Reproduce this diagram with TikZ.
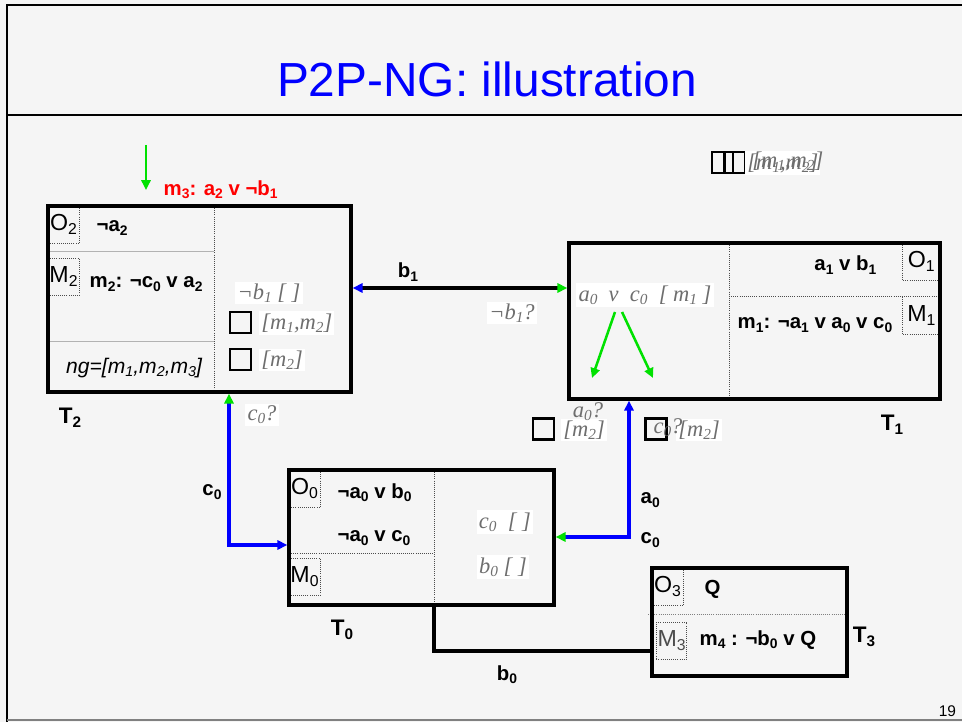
\documentclass[tikz,border=0pt]{standalone}
\usepackage{fontspec}
\setmainfont{Liberation Sans}
\newfontfamily\tnr{Liberation Serif}
\usetikzlibrary{arrows.meta,positioning,fit}
\definecolor{slidebg}{HTML}{F5F5F5}
\definecolor{titleblue}{RGB}{0,0,255}
\definecolor{msggreen}{RGB}{0,225,0}
\definecolor{hypgray}{RGB}{110,110,110}
\newcommand{\sub}[1]{\raisebox{-0.3ex}{\scalebox{0.68}{#1}}}

\begin{document}
\begin{tikzpicture}[
                x=0.025cm, y=-0.025cm,
                peer/.style={draw, line width=2.4pt, inner sep=0pt},
                lab/.style={font=\fontsize{14.5}{17}\selectfont\bfseries, inner sep=1pt},
                tlab/.style={font=\fontsize{16}{18}\selectfont\bfseries, inner sep=1pt},
                hyp/.style={
                        font=\fontsize{16}{18}\selectfont\tnr\itshape,
                        text=hypgray, fill=white, inner sep=1.5pt
                    },
                om/.style={
                        font=\fontsize{16.5}{18}\selectfont, inner sep=0pt,
                        minimum width=0.76cm, minimum height=0.92cm
                    },
                chk/.style={draw, line width=1.8pt, minimum size=0.52cm, inner sep=0pt},
                sep/.style={densely dotted, black!70, line width=0.5pt},
                link/.style={line width=2.4pt, blue},
                gar/.style={-{Triangle[length=7pt,width=6.5pt]}, msggreen, line width=1.8pt}
                ]
                \useasboundingbox (0,0) rectangle (962,722);
                \fill[slidebg] (0,0) rectangle (962,722);
                % slide frame
                \draw[line width=1.6pt] (7,722) -- (7,5) -- (962,5);
                \draw[line width=1pt] (7,115) -- (962,115);
                \draw[gray, line width=1.5pt] (7,720) -- (962,720);
                \node[font=\fontsize{34}{38}\selectfont, text=titleblue] (title) at (487,79) {P2P-NG: illustration};
                \node[font=\fontsize{11}{12}\selectfont, anchor=east] (pg) at (961,711) {19};

                % peer T2
                \node[om, anchor=north west] (o2) at (48,206) {O\sub{2}};
                \draw[sep] (o2.north east) |- (o2.south west);
                \node[lab, anchor=west] (o2c) at (95,228) {¬a\sub{2}};
                \draw[gray!60] (48,251) -- (214,251);
                \node[om, anchor=north west] (m2) at (48,258) {M\sub{2}};
                \draw[sep] (m2.north west) -| (m2.south east) -- (m2.south west);
                \node[lab, anchor=west] (m2c) at (88,284) {m\sub{2}: ¬c\sub{0} v a\sub{2}};
                \draw[gray!60] (48,341) -- (214,341);
                \node[font=\fontsize{15}{18}\selectfont\itshape, anchor=east] (ng) at (207,368) {ng=[m\sub{1},m\sub{2},m\sub{3}]};
                \draw[sep] (214,206) -- (214,392);
                \node[hyp] (h2a) at (269,293) {¬b\sub{1} [ ]};
                \node[chk] (q2a) at (240.5,322.5) {};
                \node[hyp, anchor=west] (h2b) at (259,323) {[m\sub{1},m\sub{2}]};
                \node[chk] (q2b) at (240.5,359.5) {};
                \node[hyp, anchor=west] (h2c) at (259,360) {[m\sub{2}]};
                \node[peer, fit={(48,206) (351,392)}] (T2) {};
                \node[tlab] (t2) at (70,418) {T\sub{2}};

                \node[lab, text=red, anchor=west] (m3) at (162,190) {m\sub{3}: a\sub{2} v ¬b\sub{1}};
                \coordinate (m3in) at (146,145);
                \draw[gar] (m3in) -- (m3in |- m3);

                % peer T1
                \node[om, anchor=north east, minimum width=0.92cm] (o1) at (940,243) {O\sub{1}};
                \draw[sep] (o1.north west) |- (o1.south east);
                \node[om, anchor=north east, minimum width=0.92cm] (m1) at (940,297) {M\sub{1}};
                \draw[sep] (m1.north west) |- (m1.south east);
                \draw[sep] (729,243) -- (729,399);
                \draw[sep] (729,296) -- (940,296);
                \node[lab, anchor=east] (o1c) at (878,265) {a\sub{1} v b\sub{1}};
                \node[lab, anchor=west] (m1c) at (736,325) {m\sub{1}: ¬a\sub{1} v a\sub{0} v c\sub{0}};
                \node[hyp] (h1) at (645,295) {a\sub{0} \ v \ c\sub{0} \ [ m\sub{1} ]};
                \coordinate (vs1) at (615,312);
                \coordinate (vs2) at (622,312);
                \coordinate (ve1) at (592,378);
                \coordinate (ve2) at (653,378);
                \draw[gar] (vs1) -- (ve1);
                \draw[gar] (vs2) -- (ve2);
                \node[peer, fit={(569,243) (940,399)}] (T1) {};
                \node[tlab] (t1) at (892,425) {T\sub{1}};

                % peer T0
                \node[om, anchor=north west] (o0) at (289,470) {O\sub{0}};
                \draw[sep] (o0.north east) |- (o0.south west);
                \node[lab, anchor=west] (o0a) at (336,493) {¬a\sub{0} v b\sub{0}};
                \node[lab, anchor=west] (o0b) at (336,538) {¬a\sub{0} v c\sub{0}};
                \draw[sep] (289,553) -- (434,553);
                \node[om, anchor=north west] (m0) at (289,558) {M\sub{0}};
                \draw[sep] (m0.north west) -| (m0.south east) -- (m0.south west);
                \draw[sep] (434,470) -- (434,605);
                \node[hyp] (h0a) at (505,522) {c\sub{0} \ [ ]};
                \node[hyp] (h0b) at (503,567) {b\sub{0} [ ]};
                \node[peer, fit={(289,470) (554,605)}] (T0) {};
                \node[tlab] (t0) at (342,630) {T\sub{0}};

                % peer T3
                \node[om, anchor=north west] (o3) at (652,568) {O\sub{3}};
                \draw[sep] (o3.north east) |- (o3.south west);
                \draw[sep, gray] (648,614) -- (847,614);
                \node[om, sep, draw, anchor=north west] (m3b) at (656,622) {M\sub{3}};
                \node[lab, anchor=west] (q) at (703,589) {Q};
                \node[lab, anchor=west] (m4) at (698,640) {m\sub{4} : ¬b\sub{0} v Q};
                \node[peer, fit={(652,568) (847,676)}] (T3) {};
                \node[tlab] (t3) at (864,637) {T\sub{3}};

                % links between peers
                \coordinate (b1lvl) at (460,288);
                \draw[line width=2.4pt, {Triangle[length=7pt,width=6.5pt,color=blue]}-{Triangle[length=7pt,width=6.5pt,color=msggreen]}] (T2.east |- b1lvl) -- (T1.west |- b1lvl);
                \node[lab] (b1) at (408,272) {b\sub{1}};
                \node[hyp] (hb1) at (512,313) {¬b\sub{1}?};

                \coordinate (c0bend) at (229,545);
                \draw[link, {Triangle[length=7pt,width=6.5pt,color=msggreen]}-{Triangle[length=7pt,width=6.5pt]}] (c0bend |- T2.south) -- (c0bend) -- (c0bend -| T0.west);
                \node[lab] (c0l) at (212,492) {c\sub{0}};
                \node[hyp] (hc0) at (262,415) {c\sub{0}?};

                \coordinate (a0bend) at (629,537);
                \draw[link, {Triangle[length=7pt,width=6.5pt,color=msggreen]}-{Triangle[length=7pt,width=6.5pt]}] (a0bend -| T0.east) -- (a0bend) -- (a0bend |- T1.south);
                \node[lab, anchor=west] (a0l) at (639,500) {a\sub{0}};
                \node[lab, anchor=west] (c0r) at (639,540) {c\sub{0}};

                \coordinate (b0bend) at (434,651);
                \draw[line width=2.4pt] (b0bend |- T0.south) -- (b0bend) -- (b0bend -| T3.west);
                \node[lab] (b0l) at (507,675) {b\sub{0}};

                % pending answers
                \node[chk] (q1a) at (543.5,429) {};
                \node[hyp, anchor=west] (h1a) at (561,430) {[m\sub{2}]};
                \node[hyp, fill=none] (h1b) at (588,412) {a\sub{0}?};
                \node[chk] (q1b) at (656,429) {};
                \node[hyp, anchor=west] (h1c) at (676,430) {[m\sub{2}]};
                \node[hyp, fill=none] (h1d) at (668,428) {c\sub{0}?};

                \node[chk] (qa) at (722.5,162.5) {};
                \node[chk] (qb) at (735,162.5) {};
                \node[hyp, anchor=west] (ha) at (745,163) {[m\sub{1},m\sub{2}]};
                \node[hyp, anchor=west, fill=none] (hb) at (750,161) {[m\sub{1},m\sub{2}]};
            \end{tikzpicture}
\end{document}
